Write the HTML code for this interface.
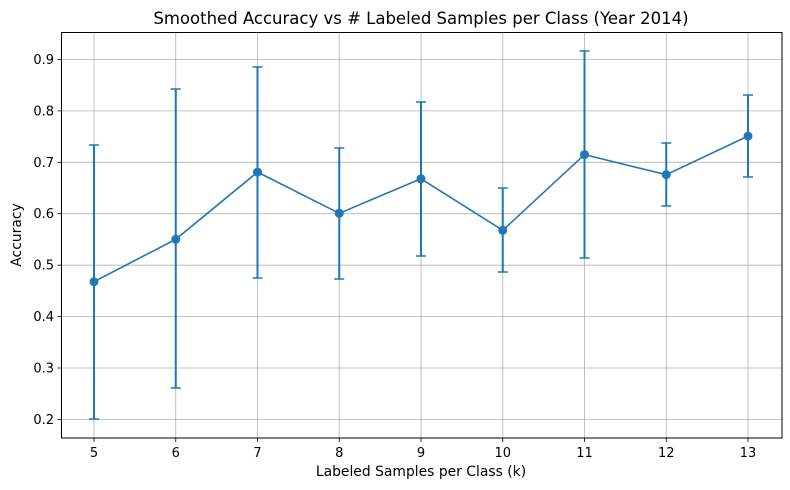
<!DOCTYPE html>
<html><head><style>body{margin:0;background:#fff}svg{display:block}text{font-family:"DejaVu Sans","Liberation Sans",sans-serif;fill:#000}</style></head>
<body>
<svg width="790" height="490" viewBox="0 0 790 490" xmlns="http://www.w3.org/2000/svg">
<rect width="790" height="490" fill="#fff"/>
<g stroke="#b0b0b0" stroke-width="0.8">
<line x1="94" y1="33" x2="94" y2="438"/><line x1="175.75" y1="33" x2="175.75" y2="438"/><line x1="257.5" y1="33" x2="257.5" y2="438"/><line x1="339.25" y1="33" x2="339.25" y2="438"/><line x1="421" y1="33" x2="421" y2="438"/><line x1="502.75" y1="33" x2="502.75" y2="438"/><line x1="584.5" y1="33" x2="584.5" y2="438"/><line x1="666.25" y1="33" x2="666.25" y2="438"/><line x1="748" y1="33" x2="748" y2="438"/>
<line x1="61.5" y1="59.5" x2="782" y2="59.5"/><line x1="61.5" y1="110.9" x2="782" y2="110.9"/><line x1="61.5" y1="162.3" x2="782" y2="162.3"/><line x1="61.5" y1="213.7" x2="782" y2="213.7"/><line x1="61.5" y1="265.2" x2="782" y2="265.2"/><line x1="61.5" y1="316.6" x2="782" y2="316.6"/><line x1="61.5" y1="368" x2="782" y2="368"/><line x1="61.5" y1="419.4" x2="782" y2="419.4"/>
</g>
<g stroke="#1f77b4" stroke-width="2" fill="none">
<path d="M94 419V145M175.75 388V89M257.5 278V67M339.25 279V148M421 256V102M502.75 272V188M584.5 258V51M666.25 206V143M748 177V95"/>
</g>
<g stroke="#1f77b4" stroke-width="1.5">
<path d="M89 419h10M89 145h10M170.75 388h10M170.75 89h10M252.5 278h10M252.5 67h10M334.25 279h10M334.25 148h10M416 256h10M416 102h10M497.75 272h10M497.75 188h10M579.5 258h10M579.5 51h10M661.25 206h10M661.25 143h10M743 177h10M743 95h10"/>
<polyline fill="none" stroke-width="1.6" points="94,281.7 175.75,239.3 257.5,172.1 339.25,213.3 421,178.8 502.75,230.3 584.5,154.6 666.25,174.7 748,136.1"/>
</g>
<g fill="#1f77b4">
<circle cx="94" cy="281.7" r="4.5"/><circle cx="175.75" cy="239.3" r="4.5"/><circle cx="257.5" cy="172.1" r="4.5"/><circle cx="339.25" cy="213.3" r="4.5"/><circle cx="421" cy="178.8" r="4.5"/><circle cx="502.75" cy="230.3" r="4.5"/><circle cx="584.5" cy="154.6" r="4.5"/><circle cx="666.25" cy="174.7" r="4.5"/><circle cx="748" cy="136.1" r="4.5"/>
</g>
<rect x="61.5" y="32.5" width="720.5" height="405.5" fill="none" stroke="#000" stroke-width="1"/>
<g stroke="#000" stroke-width="0.8">
<path d="M94 438v4M175.75 438v4M257.5 438v4M339.25 438v4M421 438v4M502.75 438v4M584.5 438v4M666.25 438v4M748 438v4"/>
<path d="M61.5 59.5h-4M61.5 110.9h-4M61.5 162.3h-4M61.5 213.7h-4M61.5 265.2h-4M61.5 316.6h-4M61.5 368h-4M61.5 419.4h-4"/>
</g>
<g font-size="13" text-anchor="middle">
<text x="94" y="457">5</text><text x="175.75" y="457">6</text><text x="257.5" y="457">7</text><text x="339.25" y="457">8</text><text x="421" y="457">9</text><text x="502.75" y="457">10</text><text x="584.5" y="457">11</text><text x="666.25" y="457">12</text><text x="748" y="457">13</text>
</g>
<g font-size="13" text-anchor="end">
<text x="54" y="64">0.9</text><text x="54" y="115.4">0.8</text><text x="54" y="166.8">0.7</text><text x="54" y="218.2">0.6</text><text x="54" y="269.7">0.5</text><text x="54" y="321.1">0.4</text><text x="54" y="372.5">0.3</text><text x="54" y="423.9">0.2</text>
</g>
<text x="421" y="476" font-size="13.9" text-anchor="middle">Labeled Samples per Class (k)</text>
<text x="21" y="235" font-size="13.9" text-anchor="middle" transform="rotate(-90 21 235)">Accuracy</text>
<text x="421" y="24" font-size="16.5" text-anchor="middle">Smoothed Accuracy vs # Labeled Samples per Class (Year 2014)</text>
</svg>
</body></html>
